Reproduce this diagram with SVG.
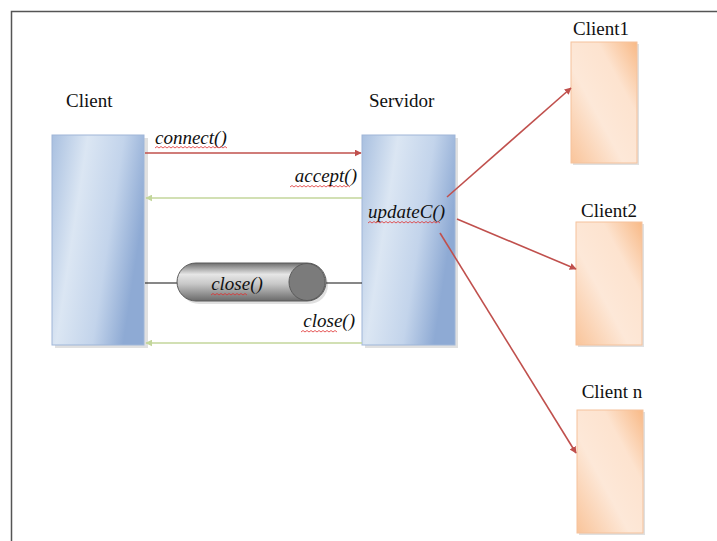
<svg xmlns="http://www.w3.org/2000/svg" width="717" height="541" viewBox="0 0 717 541" font-family="Liberation Serif, DejaVu Serif, serif">
  <style>
    .lbl { font-size: 19px; fill: #111; }
    .mth { font-size: 19px; font-style: italic; fill: #111; }
    .red { stroke: #c0504d; stroke-width: 1.6; fill: none; }
    .green { stroke: #c3d69b; stroke-width: 1.6; fill: none; }
    .wire { stroke: #111; stroke-width: 1.2; fill: none; }
    .squig { stroke: #e03030; stroke-width: 0.8; fill: none; }
    .shadow { fill: #000; opacity: 0.12; }
  </style>
  <defs>
    <linearGradient id="blueFill" x1="0" y1="0" x2="1" y2="0.35">
      <stop offset="0" stop-color="#a9c0e0"/>
      <stop offset="0.35" stop-color="#dbe6f3"/>
      <stop offset="0.7" stop-color="#c3d4eb"/>
      <stop offset="1" stop-color="#8eaad4"/>
    </linearGradient>
    <linearGradient id="orangeFill" x1="0" y1="1" x2="1" y2="0">
      <stop offset="0" stop-color="#f9c49a"/>
      <stop offset="0.4" stop-color="#fde8d8"/>
      <stop offset="0.7" stop-color="#fde3cf"/>
      <stop offset="1" stop-color="#f8b986"/>
    </linearGradient>
    <linearGradient id="pipeFill" x1="0" y1="0" x2="0" y2="1">
      <stop offset="0" stop-color="#6e6e6e"/>
      <stop offset="0.3" stop-color="#e6e6e6"/>
      <stop offset="0.55" stop-color="#c8c8c8"/>
      <stop offset="1" stop-color="#6a6a6a"/>
    </linearGradient>
    <marker id="arrRed" viewBox="0 0 10 10" refX="9" refY="5" markerWidth="7" markerHeight="7" markerUnits="userSpaceOnUse" orient="auto">
      <path d="M0,0 L10,5 L0,10 z" fill="#c0504d"/>
    </marker>
    <marker id="arrGreen" viewBox="0 0 10 10" refX="9" refY="5" markerWidth="7" markerHeight="7" markerUnits="userSpaceOnUse" orient="auto">
      <path d="M0,0 L10,5 L0,10 z" fill="#c3d69b"/>
    </marker>
  </defs>

  <rect width="717" height="541" fill="#ffffff"/>
  <!-- page frame -->
  <path d="M11.5,541 L11.5,11.5 L717,11.5" stroke="#555" stroke-width="1.5" fill="none"/>

  <g id="client">
    <text class="lbl" x="66" y="107">Client</text>
    <rect x="55" y="138" width="93" height="210" class="shadow"/>
    <rect x="52" y="135" width="92" height="210" fill="url(#blueFill)" stroke="#9fb6d8" stroke-width="1"/>
  </g>

  <g id="servidor">
    <text class="lbl" x="369" y="107">Servidor</text>
    <rect x="365" y="138" width="93" height="210" class="shadow"/>
    <rect x="362" y="135" width="93" height="210" fill="url(#blueFill)" stroke="#9fb6d8" stroke-width="1"/>
  </g>

  <g id="client1">
    <text class="lbl" x="601" y="35" text-anchor="middle">Client1</text>
    <rect x="573" y="44" width="66" height="121" class="shadow"/>
    <rect x="571" y="42" width="66" height="121" fill="url(#orangeFill)" stroke="#f5c29c" stroke-width="1"/>
  </g>

  <g id="client2">
    <text class="lbl" x="609" y="217" text-anchor="middle">Client2</text>
    <rect x="578" y="224" width="66" height="123" class="shadow"/>
    <rect x="576" y="222" width="66" height="123" fill="url(#orangeFill)" stroke="#f5c29c" stroke-width="1"/>
  </g>

  <g id="clientn">
    <text class="lbl" x="612" y="398" text-anchor="middle">Client n</text>
    <rect x="579" y="412" width="66" height="123" class="shadow"/>
    <rect x="577" y="410" width="66" height="123" fill="url(#orangeFill)" stroke="#f5c29c" stroke-width="1"/>
  </g>

  <!-- connectors, drawn over the boxes so the fan-out starts inside the server -->
  <g id="connectors">
    <line class="red" x1="145" y1="153" x2="361" y2="153" marker-end="url(#arrRed)"/>
    <line class="green" x1="362" y1="198" x2="146" y2="198" marker-end="url(#arrGreen)"/>
    <line class="green" x1="362" y1="343" x2="146" y2="343" marker-end="url(#arrGreen)"/>
    <line class="wire" x1="145" y1="283" x2="178" y2="283"/>
    <line class="wire" x1="326" y1="283" x2="362" y2="283"/>
    <line class="red" x1="447" y1="197" x2="571" y2="88" marker-end="url(#arrRed)"/>
    <line class="red" x1="457" y1="219" x2="576" y2="269" marker-end="url(#arrRed)"/>
    <line class="red" x1="440" y1="233" x2="576" y2="453" marker-end="url(#arrRed)"/>
    <text class="mth" x="155" y="144">connect()</text>
    <path class="squig" d="M155,148 l2,-1.5 l2,1.5 l2,-1.5 l2,1.5 l2,-1.5 l2,1.5 l2,-1.5 l2,1.5 l2,-1.5 l2,1.5 l2,-1.5 l2,1.5 l2,-1.5 l2,1.5 l2,-1.5 l2,1.5 l2,-1.5 l2,1.5 l2,-1.5 l2,1.5 l2,-1.5 l2,1.5 l2,-1.5 l2,1.5 l2,-1.5 l2,1.5 l2,-1.5 l2,1.5 l2,-1.5 l2,1.5 l2,-1.5 l2,1.5 l2,-1.5 l2,1.5 l2,-1.5 l2,1.5"/>
    <text class="mth" x="357" y="182" text-anchor="end">accept()</text>
    <path class="squig" d="M290,187 l2,-1.5 l2,1.5 l2,-1.5 l2,1.5 l2,-1.5 l2,1.5 l2,-1.5 l2,1.5 l2,-1.5 l2,1.5 l2,-1.5 l2,1.5 l2,-1.5 l2,1.5 l2,-1.5 l2,1.5 l2,-1.5 l2,1.5 l2,-1.5 l2,1.5 l2,-1.5 l2,1.5 l2,-1.5 l2,1.5 l2,-1.5 l2,1.5 l2,-1.5 l2,1.5 l2,-1.5 l2,1.5"/>
    <text class="mth" x="355" y="327" text-anchor="end">close()</text>
    <path class="squig" d="M301,332 l2,-1.5 l2,1.5 l2,-1.5 l2,1.5 l2,-1.5 l2,1.5 l2,-1.5 l2,1.5 l2,-1.5 l2,1.5 l2,-1.5 l2,1.5 l2,-1.5 l2,1.5 l2,-1.5 l2,1.5 l2,-1.5 l2,1.5"/>
    <text class="mth" x="368" y="218">updateC()</text>
    <path class="squig" d="M368,223 l2,-1.5 l2,1.5 l2,-1.5 l2,1.5 l2,-1.5 l2,1.5 l2,-1.5 l2,1.5 l2,-1.5 l2,1.5 l2,-1.5 l2,1.5 l2,-1.5 l2,1.5 l2,-1.5 l2,1.5 l2,-1.5 l2,1.5 l2,-1.5 l2,1.5 l2,-1.5 l2,1.5 l2,-1.5 l2,1.5 l2,-1.5 l2,1.5 l2,-1.5 l2,1.5 l2,-1.5 l2,1.5 l2,-1.5 l2,1.5 l2,-1.5 l2,1.5 l2,-1.5 l2,1.5"/>
  </g>

  <!-- message pipe -->
  <g id="pipe">
    <rect x="180" y="266" width="148" height="38" rx="19" class="shadow"/>
    <rect x="177" y="263" width="149" height="38" rx="19" fill="url(#pipeFill)" stroke="#5a5a5a" stroke-width="1"/>
    <ellipse cx="307" cy="282" rx="18" ry="18.5" fill="#7b7b7b" stroke="#5a5a5a" stroke-width="1"/>
    <text class="mth" x="237" y="290" text-anchor="middle">close()</text>
    <path class="squig" d="M211,295 l2,-1.5 l2,1.5 l2,-1.5 l2,1.5 l2,-1.5 l2,1.5 l2,-1.5 l2,1.5 l2,-1.5 l2,1.5 l2,-1.5 l2,1.5 l2,-1.5 l2,1.5 l2,-1.5 l2,1.5 l2,-1.5 l2,1.5"/>
  </g>
</svg>
